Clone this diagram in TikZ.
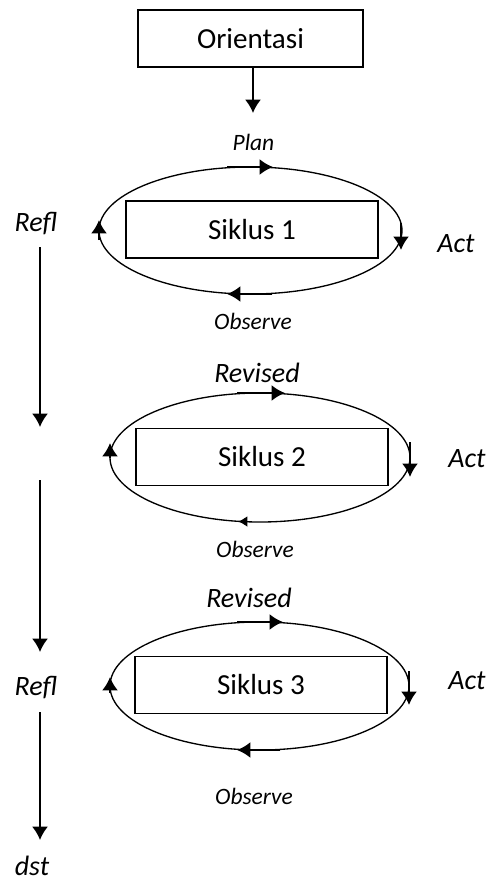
\documentclass[tikz,border=0pt]{standalone}
\usepackage{fontspec}
\setmainfont{Carlito}
\usetikzlibrary{arrows.meta}

\tikzset{
    kotak/.style={draw,line width=1pt,minimum width=189pt,minimum height=42.75pt,
        font=\fontsize{21.8}{26}\selectfont},
    lbl/.style={font=\fontsize{21}{25}\selectfont\itshape},
    kecil/.style={font=\fontsize{17.6}{21}\selectfont\itshape},
    alur/.style={line width=1.4pt,-{Latex[length=10pt,width=12pt]}},
    putar/.style={line width=1.7pt,-{Latex[length=10pt,width=12pt]}},
    elips/.style={line width=1pt}
}

\begin{document}
\begin{tikzpicture}[x=0.75pt,y=-0.75pt]
    \useasboundingbox (0,0) rectangle (489,883);
    % orientasi di atas
    \node[kotak,minimum width=168.75pt] (ori) at (250.5,38.5) {Orientasi};
    \coordinate (planTop) at (253,113);
    \draw[alur] (ori.south -| planTop) -- (planTop);
    \node[kecil] (plan) at (253.5,142) {Plan};

    % tiga siklus
    \draw[elips] (250.5,230.5) ellipse [x radius=151.5,y radius=63.5];
    \draw[elips] (260,457.5) ellipse [x radius=150,y radius=64.5];
    \draw[elips] (259.5,686) ellipse [x radius=149.5,y radius=64];
    \node[kotak] (s1) at (252,229.5) {Siklus 1};
    \node[kotak] (s2) at (262,457) {Siklus 2};
    \node[kotak] (s3) at (261,685) {Siklus 3};

    % panah keliling tiap siklus
    \draw[putar] (227,167) -- (273,167);
    \draw[putar] (401,223) -- (401,250);
    \draw[putar] (272,294) -- (227,294);
    \draw[putar] (99,240) -- (99,220);

    \draw[putar] (237,393) -- (285,393);
    \draw[putar] (410,442) -- (410,477);
    \draw[line width=1pt,-{Latex[length=7pt,width=8pt]}] (252,521.5) -- (238,521.5);
    \draw[putar] (110,458) -- (110,443);

    \draw[putar] (237,622) -- (283,622);
    \draw[putar] (409,671) -- (409,705);
    \draw[putar] (280,750) -- (237,750);
    \draw[putar] (110,693) -- (110,677);

    % label
    \node[lbl] (refl1) at (36,224) {Refl};
    \node[lbl] (act1) at (456,244) {Act};
    \node[kecil] (obs1) at (253,321) {Observe};
    \node[lbl] (rev2) at (257,373) {Revised};
    \node[lbl] (act2) at (467,459) {Act};
    \node[kecil] (obs2) at (255,549) {Observe};
    \node[lbl] (rev3) at (249,598) {Revised};
    \node[lbl] (act3) at (467,681) {Act};
    \node[kecil] (obs3) at (254,796) {Observe};
    \node[lbl] (refl3) at (36,688) {Refl};
    \node[lbl] (dst) at (32,866) {dst};

    % panah refleksi di kiri
    \coordinate (a1) at (40,247);
    \coordinate (a2) at (40,427);
    \coordinate (b1) at (40,480);
    \coordinate (b2) at (40,652);
    \coordinate (c1) at (40,712);
    \coordinate (c2) at (40,840);
    \draw[alur] (a1) -- (a2);
    \draw[alur] (b1) -- (b2);
    \draw[alur] (c1) -- (c2);
\end{tikzpicture}
\end{document}
